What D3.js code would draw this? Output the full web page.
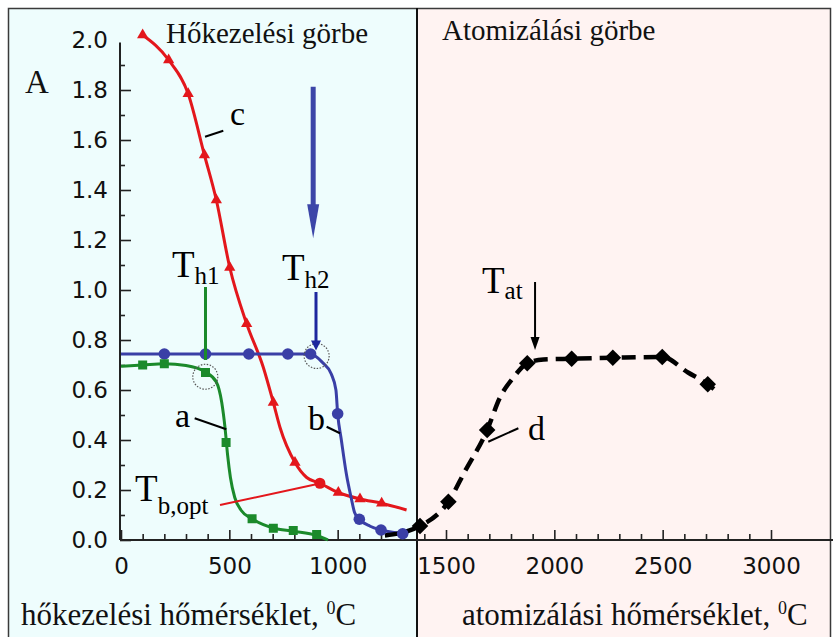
<!DOCTYPE html>
<html>
<head>
<meta charset="utf-8">
<script src="https://cdn.jsdelivr.net/npm/d3@7"></script>
<style>
  body { margin: 0; background: #fff; }
  svg { display: block; }
</style>
</head>
<body>
<svg id="chart" width="833" height="637"></svg>
<script>
// ---- data (temperature in °C, absorbance A) ----
const xMajor = [0, 500, 1000, 1500, 2000, 2500, 3000];
const xMinor = d3.range(0, 3001, 100);
const yMajor = [0, 0.2, 0.4, 0.6, 0.8, 1.0, 1.2, 1.4, 1.6, 1.8, 2.0];
const yMinor = [0.1, 0.3, 0.5, 0.7, 0.9, 1.1, 1.3, 1.5, 1.7, 1.9];

// curve a (green, squares)
const aPoints = [[100, 0.70], [200, 0.705], [390, 0.67], [485, 0.39], [605, 0.085], [703, 0.047], [795, 0.038], [903, 0.022]];
const aLine = [[0, 0.695], [100, 0.70], [200, 0.705], [300, 0.698], [390, 0.672], [440, 0.632], [465, 0.55], [480, 0.45],
  [492, 0.34], [505, 0.25], [525, 0.17], [555, 0.118], [605, 0.085], [703, 0.048], [795, 0.035], [903, 0.018], [955, 0]];

// curve b (blue, circles)
const bPoints = [[200, 0.744], [390, 0.744], [590, 0.744], [770, 0.744], [875, 0.744], [1000, 0.505], [1100, 0.083], [1200, 0.04], [1300, 0.025]];
const bLine = [[0, 0.744], [875, 0.744], [930, 0.71], [970, 0.665], [992, 0.6], [1000, 0.505], [1017, 0.4], [1040, 0.265],
  [1062, 0.17], [1078, 0.11], [1100, 0.083], [1150, 0.055], [1200, 0.04], [1300, 0.025], [1325, 0.022]];

// curve c (red, triangles)
const cPoints = [[100, 2.02], [220, 1.92], [310, 1.785], [385, 1.54], [440, 1.36], [502, 1.09], [580, 0.865], [703, 0.55],
  [803, 0.31], [1003, 0.19], [1103, 0.164], [1203, 0.147]];
const cOptimum = [918, 0.227];
const cLine = [[100, 2.02], [220, 1.92], [310, 1.785], [385, 1.54], [440, 1.36], [502, 1.09], [580, 0.865], [657, 0.69],
  [703, 0.55], [734, 0.45], [803, 0.31], [857, 0.25], [918, 0.227], [1003, 0.19], [1103, 0.164], [1203, 0.147], [1318, 0.12]];

// curve d (black dashed, diamonds) - atomization curve
const dPoints = [[1380, 0.056], [1511, 0.153], [1690, 0.44], [1875, 0.707], [2080, 0.725], [2270, 0.729], [2498, 0.732], [2708, 0.623]];
const dLine = [[1218, 0.018], [1380, 0.056], [1511, 0.153], [1588, 0.276], [1690, 0.44], [1749, 0.57], [1811, 0.65], [1875, 0.707],
  [1950, 0.722], [2080, 0.725], [2270, 0.729], [2498, 0.732], [2617, 0.67], [2708, 0.623], [2765, 0.583]];

// annotations (data coordinates)
const curveLabels = [
  { text: "a", t: 249, v: 0.452, from: [340, 0.487], to: [486, 0.443] },
  { text: "b", t: 863, v: 0.44, from: [949, 0.453], to: [1011, 0.427] },
  { text: "c", t: 503, v: 1.66, from: [388, 1.613], to: [472, 1.637] },
  { text: "d", t: 1878, v: 0.40, from: [1695, 0.393], to: [1834, 0.447] }
];
const tempLabels = [
  { main: "T", sub: "h1", t: 235, v: 1.052, dy: 7 },
  { main: "T", sub: "h2", t: 743, v: 1.04, dy: 8 },
  { main: "T", sub: "b,opt", t: 65, v: 0.156, dy: 13 },
  { main: "T", sub: "at", t: 1666, v: 0.988, dy: 6 }
];
const circledPoints = [[389, 0.653], [903, 0.736]];
const divideT = 1364;

const svg = d3.select("#chart");
const width = +svg.attr("width");
const height = +svg.attr("height");

const x = d3.scaleLinear().domain([0, 3000]).range([121, 771]);
const y = d3.scaleLinear().domain([0, 2]).range([540, 40]);

const serif = "'Liberation Serif', 'Times New Roman', serif";
const sans = "'DejaVu Sans', sans-serif";

const green = "#1b8a2b";
const blue = "#3a3fa6";
const red = "#e3171c";

// backgrounds
const divX = Math.round(x(divideT));
svg.append("rect").attr("x", 8).attr("y", 8).attr("width", divX - 8).attr("height", height)
  .attr("fill", "#eefdfd");
svg.append("rect").attr("x", divX).attr("y", 8).attr("width", 831 - divX).attr("height", height)
  .attr("fill", "#fff3f2");
svg.append("rect").attr("x", 8.5).attr("y", 8.5).attr("width", 822).attr("height", height)
  .attr("fill", "none").attr("stroke", "#3a3a3a").attr("stroke-width", 1.5);
svg.append("line").attr("x1", divX).attr("x2", divX).attr("y1", 8).attr("y2", height)
  .attr("stroke", "#111").attr("stroke-width", 2);

// axes
const axisX0 = 120;
svg.append("line").attr("x1", axisX0).attr("x2", axisX0).attr("y1", y(1.99)).attr("y2", y(0))
  .attr("stroke", "#222").attr("stroke-width", 2);
svg.append("line").attr("x1", axisX0).attr("x2", width).attr("y1", y(0)).attr("y2", y(0))
  .attr("stroke", "#222").attr("stroke-width", 2);

const yAxis = svg.append("g")
  .attr("transform", `translate(${axisX0},0)`)
  .call(d3.axisLeft(y).tickValues(yMajor).tickSize(-11).tickPadding(12).tickFormat(d3.format(".1f")));
yAxis.select(".domain").remove();
yAxis.selectAll(".tick").filter(d => d === 2).select("line").remove();
yAxis.selectAll("line").attr("stroke", "#222").attr("stroke-width", 1.6);
yAxis.selectAll("text").attr("font-family", sans).attr("font-size", 23).attr("fill", "#111");

const yAxisMinor = svg.append("g")
  .attr("transform", `translate(${axisX0},0)`)
  .call(d3.axisLeft(y).tickValues(yMinor).tickSize(-5).tickFormat(""));
yAxisMinor.select(".domain").remove();
yAxisMinor.selectAll("line").attr("stroke", "#222").attr("stroke-width", 1.6);

const xAxis = svg.append("g")
  .attr("transform", `translate(0,${y(0)})`)
  .call(d3.axisBottom(x).tickValues(xMajor).tickSize(-10).tickPadding(18).tickFormat(d3.format("d")));
xAxis.select(".domain").remove();
xAxis.selectAll("line").attr("stroke", "#222").attr("stroke-width", 1.6);
xAxis.selectAll("text").attr("font-family", sans).attr("font-size", 23).attr("fill", "#111");

const xAxisMinor = svg.append("g")
  .attr("transform", `translate(0,${y(0)})`)
  .call(d3.axisBottom(x).tickValues(xMinor.filter(d => d % 500 !== 0)).tickSize(-6).tickFormat(""));
xAxisMinor.select(".domain").remove();
xAxisMinor.selectAll("line").attr("stroke", "#222").attr("stroke-width", 1.6);

// lines
const line = d3.line().x(d => x(d[0])).y(d => y(d[1])).curve(d3.curveMonotoneX);

svg.append("path").datum(cLine).attr("d", line)
  .attr("fill", "none").attr("stroke", red).attr("stroke-width", 3);
svg.append("path").datum(bLine).attr("d", line)
  .attr("fill", "none").attr("stroke", blue).attr("stroke-width", 3);
svg.append("path").datum(aLine).attr("d", line)
  .attr("fill", "none").attr("stroke", green).attr("stroke-width", 3);
svg.append("path").datum(dLine).attr("d", line)
  .attr("fill", "none").attr("stroke", "#000").attr("stroke-width", 4.5)
  .attr("stroke-dasharray", "14,8");

// markers
svg.selectAll(".pt-c")
  .data(cPoints)
  .enter()
  .append("path")
  .attr("class", "pt-c")
  .attr("d", d3.symbol().type(d3.symbolTriangle).size(55))
  .attr("transform", d => `translate(${x(d[0])},${y(d[1])})`)
  .attr("fill", red);
svg.append("circle").datum(cOptimum)
  .attr("cx", d => x(d[0])).attr("cy", d => y(d[1])).attr("r", 5.5).attr("fill", red);

svg.selectAll(".pt-b")
  .data(bPoints)
  .enter()
  .append("circle")
  .attr("class", "pt-b")
  .attr("cx", d => x(d[0])).attr("cy", d => y(d[1])).attr("r", 5.8)
  .attr("fill", blue);

svg.selectAll(".pt-a")
  .data(aPoints)
  .enter()
  .append("rect")
  .attr("class", "pt-a")
  .attr("x", d => x(d[0]) - 4.5).attr("y", d => y(d[1]) - 4.5)
  .attr("width", 9).attr("height", 9)
  .attr("fill", green);

svg.selectAll(".pt-d")
  .data(dPoints)
  .enter()
  .append("path")
  .attr("class", "pt-d")
  .attr("d", d3.symbol().type(d3.symbolDiamond2).size(175))
  .attr("transform", d => `translate(${x(d[0])},${y(d[1])})`)
  .attr("fill", "#000");

// dotted circles around the pretreatment temperatures
svg.selectAll(".ring")
  .data(circledPoints)
  .enter()
  .append("circle")
  .attr("class", "ring")
  .attr("cx", d => x(d[0])).attr("cy", d => y(d[1])).attr("r", 12.5)
  .attr("fill", "none").attr("stroke", "#555").attr("stroke-width", 1.2)
  .attr("stroke-dasharray", "1.5,1.5");

// vertical markers / arrows
function arrow(t, v1, v2, color, shaft, headW, headL) {
  const px = x(t), top = y(v1), tip = y(v2);
  svg.append("line").attr("x1", px).attr("x2", px).attr("y1", top).attr("y2", tip - headL + 1)
    .attr("stroke", color).attr("stroke-width", shaft);
  svg.append("path")
    .attr("d", `M${px - headW / 2},${tip - headL}L${px + headW / 2},${tip - headL}L${px},${tip}Z`)
    .attr("fill", color);
}
arrow(887, 1.813, 1.207, "#3c46a8", 5, 12, 34);
arrow(900, 0.992, 0.758, "#1d279e", 3, 10, 10);
arrow(1911, 1.032, 0.76, "#000", 2, 9, 13);

svg.append("line")
  .attr("x1", x(390)).attr("x2", x(390)).attr("y1", y(1.012)).attr("y2", y(0.72))
  .attr("stroke", green).attr("stroke-width", 3);
svg.append("line")
  .attr("x1", x(457)).attr("x2", x(912)).attr("y1", y(0.14)).attr("y2", y(0.225))
  .attr("stroke", red).attr("stroke-width", 2);

// curve labels with pointer lines
svg.selectAll(".ptr")
  .data(curveLabels)
  .enter()
  .append("line")
  .attr("class", "ptr")
  .attr("x1", d => x(d.from[0])).attr("y1", d => y(d.from[1]))
  .attr("x2", d => x(d.to[0])).attr("y2", d => y(d.to[1]))
  .attr("stroke", "#000").attr("stroke-width", 2);
svg.selectAll(".clabel")
  .data(curveLabels)
  .enter()
  .append("text")
  .attr("class", "clabel")
  .attr("x", d => x(d.t)).attr("y", d => y(d.v))
  .attr("font-family", serif).attr("font-size", 34).attr("fill", "#000")
  .text(d => d.text);

// temperature labels (T with subscript)
const tl = svg.selectAll(".tlabel")
  .data(tempLabels)
  .enter()
  .append("text")
  .attr("class", "tlabel")
  .attr("x", d => x(d.t)).attr("y", d => y(d.v))
  .attr("font-family", serif).attr("fill", "#000");
tl.append("tspan").attr("font-size", 37).text(d => d.main);
tl.append("tspan").attr("font-size", 25).attr("dy", d => d.dy).text(d => d.sub);

// titles and axis labels
svg.append("text").attr("x", 166).attr("y", 43)
  .attr("font-family", serif).attr("font-size", 29).attr("fill", "#111")
  .text("Hőkezelési görbe");
svg.append("text").attr("x", 442).attr("y", 40)
  .attr("font-family", serif).attr("font-size", 29).attr("fill", "#111")
  .text("Atomizálási görbe");
svg.append("text").attr("x", 25).attr("y", 93)
  .attr("font-family", serif).attr("font-size", 33).attr("fill", "#111")
  .text("A");

function unitLabel(px, text) {
  const t = svg.append("text").attr("x", px).attr("y", 625)
    .attr("font-family", serif).attr("font-size", 31).attr("fill", "#111");
  t.append("tspan").text(text);
  t.append("tspan").attr("font-size", 18).attr("dy", -11).text("0");
  t.append("tspan").attr("dy", 11).text("C");
}
unitLabel(21, "hőkezelési hőmérséklet, ");
unitLabel(462, "atomizálási hőmérséklet, ");
</script>
</body>
</html>
